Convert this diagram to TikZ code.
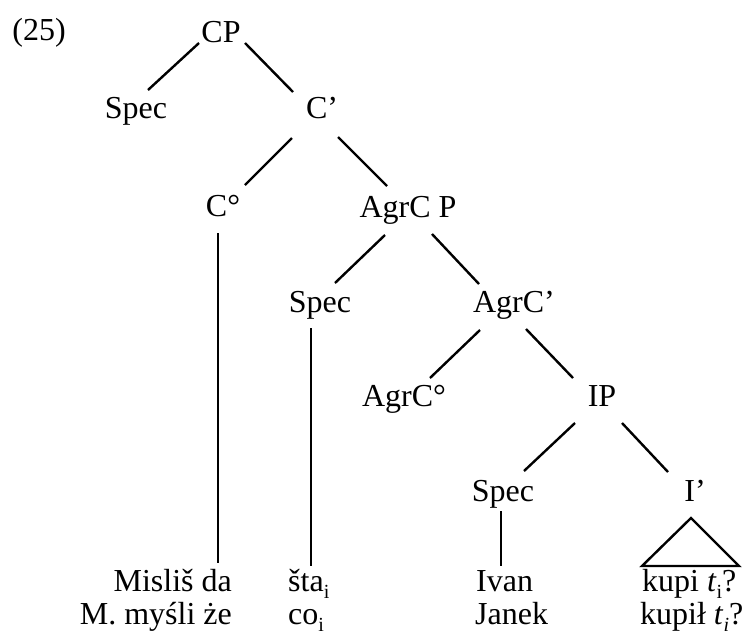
\documentclass[tikz,border=0pt]{standalone}
\usepackage{fontspec}
\setmainfont{Liberation Serif}
% lowered index letter (co-indexation marks)
\newcommand{\lowidx}[1]{\raisebox{-0.22em}{\fontsize{20}{20}\selectfont #1}}
\begin{document}
\begin{tikzpicture}[x=1pt,y=-1pt,
  every node/.style={font=\fontsize{32}{32}\selectfont, inner sep=0pt},
  cat/.style={anchor=base},
  leafr/.style={anchor=base east},
  leafl/.style={anchor=base west},
  branch/.style={line width=2.4pt, line cap=butt}]
\useasboundingbox (0,0) rectangle (749,638);

% example number
\node[cat] (num) at (39,40) {(25)};

% category labels
\node[cat] (cp)     at (221,42)  {CP};
\node[cat] (spec1)  at (136,118) {Spec};
\node[cat] (cbar)   at (322,118) {C’};
\node[cat] (c0)     at (223,216) {C°};
\node[cat] (agrcp)  at (408,217) {AgrC P};
\node[cat] (spec2)  at (320,312) {Spec};
\node[cat] (agrcbar) at (514,312) {AgrC’};
\node[cat] (agrc0)  at (404,406) {AgrC°};
\node[cat] (ip)     at (602,406) {IP};
\node[cat] (spec3)  at (503,501) {Spec};
\node[cat] (ibar)   at (695,501) {I’};

% terminal strings (two glossed lines)
\node[leafr] (l1a) at (232,591) {Misliš da};
\node[leafr] (l1b) at (232,624) {M. myśli że};
\node[leafl] (l2a) at (288,591) {šta\lowidx{i}};
\node[leafl] (l2b) at (288,624) {co\lowidx{i}};
\node[leafl] (l3a) at (476,591) {Ivan};
\node[leafl] (l3b) at (475,624) {Janek};
\node[leafl] (l4a) at (642,591) {kupi \textit{t}\lowidx{i}?};
\node[leafl] (l4b) at (640,624) {kupił \textit{t}\lowidx{\textit{i}}?};

% branches
\draw[branch] ([shift={(-22,1)}]cp.base)      -- ([shift={(12,-28)}]spec1.base);
\draw[branch] ([shift={(24,1)}]cp.base)       -- ([shift={(-29,-26)}]cbar.base);
\draw[branch] ([shift={(-30,20)}]cbar.base)   -- ([shift={(22,-31)}]c0.base);
\draw[branch] ([shift={(16,19)}]cbar.base)    -- ([shift={(-21,-31)}]agrcp.base);
\draw[branch] ([shift={(-23,18)}]agrcp.base)  -- ([shift={(15,-29)}]spec2.base);
\draw[branch] ([shift={(24,17)}]agrcp.base)   -- ([shift={(-35,-28)}]agrcbar.base);
\draw[branch] ([shift={(-34,18)}]agrcbar.base) -- ([shift={(26,-28)}]agrc0.base);
\draw[branch] ([shift={(12,17)}]agrcbar.base) -- ([shift={(-29,-28)}]ip.base);
\draw[branch] ([shift={(-27,17)}]ip.base)     -- ([shift={(21,-30)}]spec3.base);
\draw[branch] ([shift={(20,17)}]ip.base)      -- ([shift={(-27,-29)}]ibar.base);

% vertical links to the terminals
\draw[branch] ([shift={(-5,17)}]c0.base)    -- ([shift={(-14,-28)}]l1a.base east);
\draw[branch] ([shift={(-9,16)}]spec2.base) -- ([shift={(23,-25)}]l2a.base west);
\draw[branch] ([shift={(-2,10)}]spec3.base) -- ([shift={(25,-25)}]l3a.base west);

% triangle over I'
\draw[branch, line join=miter] ([shift={(-4,17)}]ibar.base)
  -- ([shift={(97,-25)}]l4a.base west)
  -- ([shift={(0,-25)}]l4a.base west) -- cycle;
\end{tikzpicture}
\end{document}
